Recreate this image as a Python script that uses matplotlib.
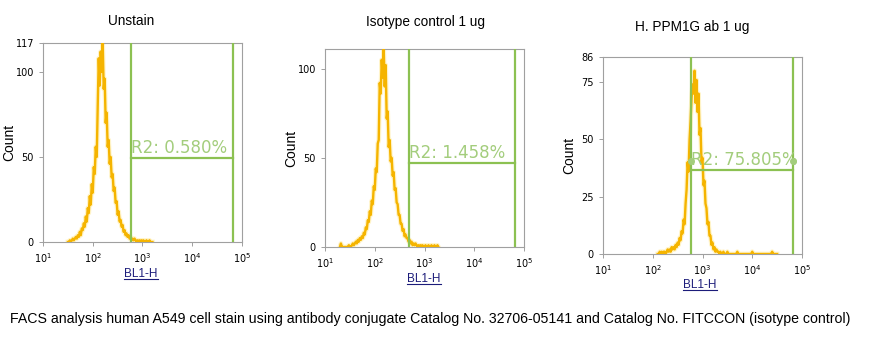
import numpy as np
import matplotlib
matplotlib.use("Agg")
import matplotlib.pyplot as plt
from matplotlib.lines import Line2D

# histogram counts, bins of 0.02 in log10(BL1-H)
unstain_start = 1.50
unstain_counts = [0, 0, 1, 0, 1, 2, 1, 2, 3, 2, 4, 3, 6, 4, 8, 7, 11, 9, 15, 12,
                  20, 17, 27, 22, 34, 29, 44, 40, 56, 50, 80, 108, 92, 112, 100, 117, 90, 96, 70, 76,
                  56, 60, 46, 50, 38, 40, 30, 32, 23, 24, 16, 18, 12, 13, 9, 10, 6, 7, 4, 5,
                  3, 4, 2, 3, 1, 2, 1, 2, 1, 0, 1, 0, 1, 0, 1, 0, 1, 0, 0, 1,
                  0, 0, 1, 0, 0, 0]

isotype_start = 1.30
isotype_counts = [0, 2, 0, 0, 0, 0, 0, 0, 0, 1, 0, 0, 1, 2, 1, 2, 3, 2, 4, 3,
                  5, 4, 6, 5, 8, 7, 11, 10, 15, 14, 20, 18, 26, 24, 34, 32, 44, 42, 58, 60,
                  92, 86, 105, 95, 111, 90, 102, 72, 76, 56, 60, 48, 50, 40, 42, 32, 33, 25, 24, 18,
                  18, 13, 13, 9, 10, 6, 7, 5, 5, 3, 4, 2, 3, 1, 2, 1, 2, 1, 0, 1,
                  0, 1, 0, 1, 0, 0, 1, 0, 0, 1, 0, 0, 1, 0, 0, 1, 0, 0, 1, 0]

ppm1g_start = 2.10
ppm1g_counts = [0, 0, 1, 0, 1, 0, 1, 1, 0, 1, 2, 1, 2, 1, 3, 2, 3, 2, 4, 3,
                5, 4, 7, 6, 10, 9, 15, 13, 22, 28, 40, 36, 50, 58, 68, 74, 70, 80, 66, 76,
                62, 70, 52, 55, 40, 42, 30, 32, 22, 20, 13, 14, 8, 8, 4, 5, 2, 3, 1, 2,
                1, 1, 0, 1, 0, 0, 1, 0, 0, 0, 1, 0, 0, 0, 0, 0, 0, 0, 0, 0,
                1, 0, 0, 0, 0, 0, 0, 0, 0, 0, 0, 0, 0, 0, 0, 1, 0, 0, 0, 0,
                0, 0, 0, 0, 0, 0, 0, 0, 0, 0, 0, 0, 0, 0, 0, 1, 0, 0, 0, 0, 0]
bin_step = 0.02

titles = ["Unstain", "Isotype control 1 ug", "H. PPM1G ab 1 ug"]
ymaxes = [117, 111, 86]
yticks_list = [[0, 50, 100, 117], [0, 50, 100], [0, 25, 50, 75, 86]]
gate_lo = [575, 480, 575]
gate_hi = [66000, 66000, 66000]
gate_y = [49.5, 47, 36.7]
gate_text = ["R2: 0.580%", "R2: 1.458%", "R2: 75.805%"]

caption = ("FACS analysis human A549 cell stain using antibody conjugate "
           "Catalog No. 32706-05141 and Catalog No. FITCCON (isotype control)")

W, H = 877, 360
fig = plt.figure(figsize=(W / 100, H / 100), dpi=100)

# axes boxes in pixels: left, top, right, bottom
boxes = [(43, 43, 242, 242), (325, 49, 524, 247), (603, 57, 802, 254)]
title_pos = [(131, 21), (425, 22), (692, 27)]
xlabel_pos = [(141, 274), (424, 279), (700, 285)]
ylabel_x = [16, 298, 576]  # right edge of the rotated label

hist_col = "#f5b400"
gate_col = "#8cc152"
text_col = "#a3cd7c"
axis_col = "#a0a0a0"

data = [(unstain_start, unstain_counts), (isotype_start, isotype_counts),
        (ppm1g_start, ppm1g_counts)]

xlabels = []
for i in range(3):
    l, t, r, b = boxes[i]
    ax = fig.add_axes([l / W, 1 - b / H, (r - l) / W, (b - t) / H])
    start, counts = data[i]
    logx = start + bin_step * np.arange(len(counts))
    xs = 10 ** logx
    ax.plot(xs, counts, color="#ffe066", lw=3.4, alpha=0.35, zorder=2)
    ax.plot(xs, counts, color=hist_col, lw=1.7, zorder=3)

    ax.set_xscale("log")
    ax.set_xlim(10, 1e5)
    ax.set_ylim(0, ymaxes[i])
    ax.set_yticks(yticks_list[i])
    ax.set_yticklabels([str(v) for v in yticks_list[i]], fontsize=7)
    ax.set_xticks([10, 100, 1000, 1e4, 1e5])
    ax.set_xticklabels([r"$10^{%d}$" % k for k in range(1, 6)], fontsize=7)
    for s in ax.spines.values():
        s.set_color(axis_col)
        s.set_linewidth(0.8)
    ax.tick_params(which="both", colors=axis_col, labelcolor="black", length=3, width=0.7)
    ax.tick_params(which="minor", length=2)
    ax.set_ylabel("Count", fontsize=10, family="Liberation Sans")
    ax.yaxis.set_label_coords((ylabel_x[i] - l) / (r - l), 0.5)

    # gate R2
    ax.axvline(gate_lo[i], color=gate_col, lw=1.6, zorder=4)
    ax.axvline(gate_hi[i], color=gate_col, lw=1.6, zorder=4)
    ax.plot([gate_lo[i], gate_hi[i]], [gate_y[i], gate_y[i]], color=gate_col, lw=1.6, zorder=4)
    ax.text(gate_lo[i], gate_y[i] + ymaxes[i] * 0.005, gate_text[i], color=text_col,
            fontsize=12, ha="left", va="bottom", zorder=5)
    if i == 2:
        ax.plot([gate_lo[i], gate_hi[i]], [40.6, 40.6], "o", color=text_col, ms=4,
                ls="none", zorder=5)

    fig.text(title_pos[i][0] / W, 1 - title_pos[i][1] / H, titles[i],
             ha="center", va="center", fontsize=9.8, family="Liberation Sans")
    xl = fig.text(xlabel_pos[i][0] / W, 1 - xlabel_pos[i][1] / H, "BL1-H",
                  ha="center", va="center", fontsize=8.5, color="#1c1c7a",
                  family="Liberation Sans")
    xlabels.append(xl)

fig.text(10 / W, 1 - 319 / H, caption, ha="left", va="center", fontsize=10.2,
         family="Liberation Sans")

# underline the axis labels
fig.canvas.draw()
renderer = fig.canvas.get_renderer()
for xl in xlabels:
    bb = xl.get_window_extent(renderer).transformed(fig.transFigure.inverted())
    fig.add_artist(Line2D([bb.x0, bb.x1], [bb.y0 + 0.002, bb.y0 + 0.002],
                          transform=fig.transFigure, color="#1c1c7a", lw=0.8))

fig.savefig("out.png", dpi=100)
